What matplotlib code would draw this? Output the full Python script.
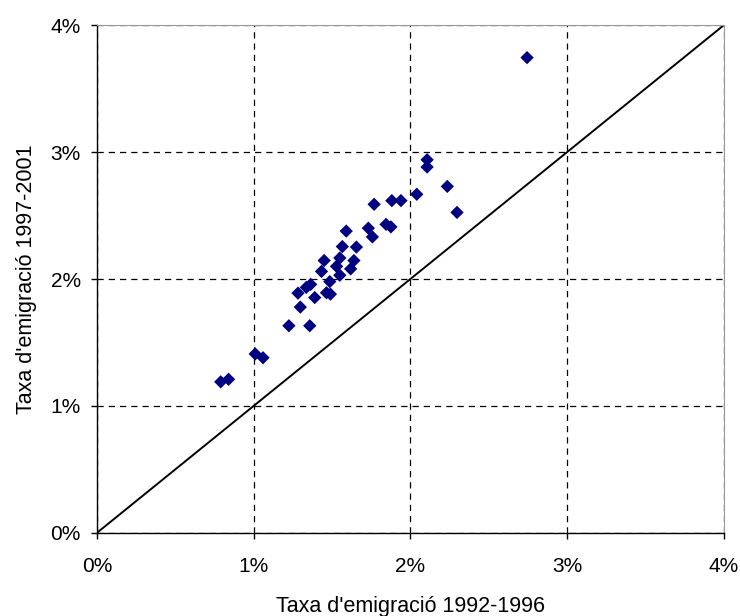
# libraries
import matplotlib
matplotlib.use('Agg')
import matplotlib.pyplot as plt
from matplotlib.ticker import FuncFormatter

# emigration rates (%), 1992-1996 vs 1997-2001
taxa_92_96 = [2.745, 2.107, 2.107, 2.236, 2.298, 2.041, 1.882, 1.94, 1.769,
              1.845, 1.876, 1.732, 1.758, 1.591, 1.566, 1.656, 1.45, 1.55,
              1.64, 1.433, 1.529, 1.55, 1.619, 1.364, 1.336, 1.486, 1.283,
              1.39, 1.465, 1.49, 1.298, 1.225, 1.358, 1.01, 1.06, 0.79, 0.84]
taxa_97_01 = [3.745, 2.94, 2.883, 2.73, 2.525, 2.668, 2.618, 2.618, 2.589,
              2.431, 2.411, 2.401, 2.332, 2.378, 2.256, 2.252, 2.146, 2.166,
              2.146, 2.06, 2.1, 2.03, 2.08, 1.958, 1.934, 1.98, 1.889,
              1.854, 1.892, 1.881, 1.779, 1.632, 1.632, 1.41, 1.38, 1.19, 1.21]

ticks = [0, 1, 2, 3, 4]

plt.rcParams['font.family'] = ['Liberation Sans', 'DejaVu Sans']

fig = plt.figure(figsize=(7.4, 6.16), dpi=100)
ax = fig.add_axes([0.131, 0.135, 0.847, 0.824])

# diagonal reference line
ax.plot([0, 4], [0, 4], color='black', linewidth=1.4, zorder=2)

# points
ax.scatter(taxa_92_96, taxa_97_01, marker='D', s=46, color='#000080',
           edgecolors='none', zorder=3)

ax.set_xlim(0, 4)
ax.set_ylim(0, 4)
ax.set_xticks(ticks)
ax.set_yticks(ticks)
pct = FuncFormatter(lambda v, p: '%d%%' % v)
ax.xaxis.set_major_formatter(pct)
ax.yaxis.set_major_formatter(pct)

ax.grid(True, color='black', linestyle=(0, (5, 4)), linewidth=0.9)
ax.set_axisbelow(True)

for s in ['top', 'right']:
    ax.spines[s].set_color('#999999')
for s in ['left', 'bottom']:
    ax.spines[s].set_color('black')
    ax.spines[s].set_linewidth(1.0)

ax.tick_params(direction='out', length=4.5, width=1, labelsize=15)
ax.tick_params(axis='x', pad=13)
ax.tick_params(axis='y', pad=7)

ax.set_xlabel("Taxa d'emigració 1992-1996", fontsize=15.5, labelpad=14)
ax.set_ylabel("Taxa d'emigració 1997-2001", fontsize=15.5, labelpad=10)

fig.savefig('out.png', dpi=100)
